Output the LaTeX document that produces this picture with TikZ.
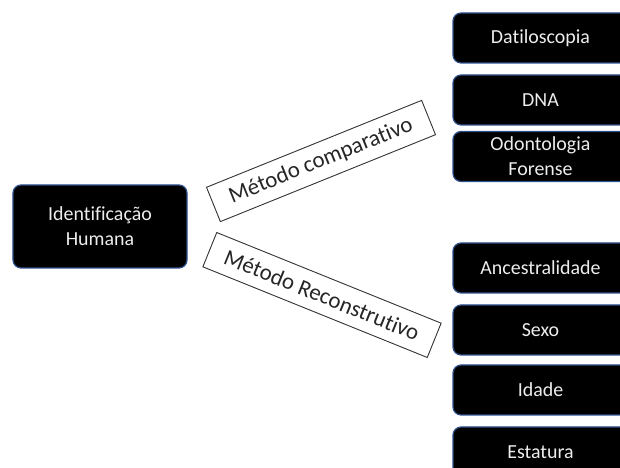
\documentclass[tikz,border=0pt]{standalone}
\usepackage{fontspec}
\setmainfont{Carlito}[Ligatures={NoCommon}]
\usepackage{tikz}
\definecolor{boxline}{HTML}{2F528F}
\definecolor{boxtext}{HTML}{EDEDED}
\definecolor{mettext}{HTML}{262626}

\begin{document}
\begin{tikzpicture}[x=1bp,y=1bp]
\tikzstyle{blk}=[draw=boxline,line width=1.2bp,fill=black,rounded corners=8bp,
  text=boxtext,align=center,inner sep=0pt,font=\fontsize{20}{25}\selectfont];
\tikzstyle{leaf}=[blk,minimum width=175bp,minimum height=50bp];
\tikzstyle{met}=[draw=black!80,line width=0.9bp,fill=white,text=mettext,inner sep=0pt,
  minimum height=37bp,font=\fontsize{23}{27}\selectfont];

\useasboundingbox (0,0) rectangle (620,468);
\clip (0,0) rectangle (620,468);

\node[blk,minimum width=174bp,minimum height=83bp] (humana) at (100,241.5) {Identificação\\Humana};

\node[met,minimum width=232bp,rotate=22] (comp) at (321,307) {Método comparativo};
\node[met,minimum width=242bp,rotate=-22] (recon) at (322,173) {Método Reconstrutivo};

\node[leaf] (dati) at (540.5,430) {Datiloscopia};
\node[leaf] (dna) at (540.5,368) {DNA};
\node[leaf] (odonto) at (540.5,311.5) {Odontologia\\Forense};

\node[leaf] (ances) at (540.5,200) {Ancestralidade};
\node[leaf] (sexo) at (540.5,138) {Sexo};
\node[leaf] (idade) at (540.5,78) {Idade};
\node[leaf] (estat) at (540.5,16) {Estatura};
\end{tikzpicture}
\end{document}
